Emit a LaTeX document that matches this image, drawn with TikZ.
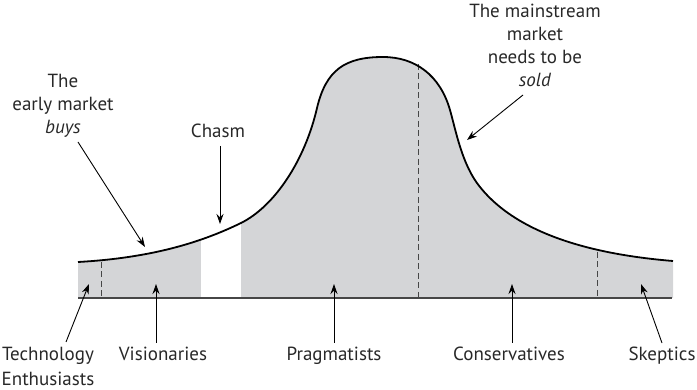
\documentclass[tikz,border=0pt]{standalone}
\usepackage{fontspec}
\setmainfont{PT Sans}
\usetikzlibrary{arrows.meta}
\definecolor{fillgray}{RGB}{212,213,215}
\definecolor{linegray}{RGB}{70,70,70}
\definecolor{textgray}{RGB}{40,40,40}
\begin{document}
\begin{tikzpicture}[x=1pt,y=-1pt,
  lbl/.style={font=\fontsize{19}{23}\selectfont, text=textgray, align=center, inner sep=0pt},
  arr/.style={-{Stealth[length=10pt,width=7pt]}, line width=0.9pt, black},
  divider/.style={linegray, line width=0.9pt, dash pattern=on 6pt off 3.5pt},
  curveline/.style={black, line width=1.8pt}
]
\useasboundingbox (0,0) rectangle (697,390);
\def\bell{(78,262) .. controls (150,258) and (200,243) .. (241,223)
  .. controls (275,206) and (305,160) .. (317,108)
  .. controls (326,70) and (345,57) .. (383,57)
  .. controls (415,57) and (440,75) .. (450,110)
  .. controls (456,131) and (462,165) .. (480,187)
  .. controls (520,237) and (600,255) .. (673,261)}
% gray area
\fill[fillgray] (78,298) -- \bell -- (673,298) -- cycle;
% chasm
\fill[white] (201,298) rectangle (241,200);
% dividers
\draw[divider] (101,262) -- (101,298);
\draw[divider] (418,64) -- (418,298);
\draw[divider] (597,252) -- (597,298);
% baseline
\draw[linegray, line width=1.1pt] (78,298) -- (672,298);
% curve
\draw[curveline] \bell;
% top labels
\node[lbl] (early) at (63,106) {The\\early market\\\textit{buys}};
\node[lbl, anchor=base] (chasm) at (218,138) {Chasm};
\node[lbl] (main) at (535,45) {The mainstream\\market\\needs to be\\\textit{sold}};
\coordinate (earlyT) at (78,142);
\coordinate (earlyH) at (145,247);
\coordinate (chasmT) at (220,146);
\coordinate (chasmH) at (220,224);
\coordinate (mainT) at (523,95);
\coordinate (mainH) at (467,140);
\draw[arr] (earlyT) -- (earlyH);
\draw[arr] (chasmT) -- (chasmH);
\draw[arr] (mainT) -- (mainH);
% bottom labels
\node[lbl, font=\fontsize{19}{25}\selectfont] (tech) at (48,366.5) {Technology\\Enthusiasts};
\node[lbl, anchor=base] (vis) at (163,361) {Visionaries};
\node[lbl, anchor=base] (prag) at (334,361) {Pragmatists};
\node[lbl, anchor=base] (cons) at (509,361) {Conservatives};
\node[lbl, anchor=base] (skep) at (662,361) {Skeptics};
\coordinate (techT) at (66,342);
\coordinate (techH) at (89,284);
\coordinate (visT) at (156,343);
\coordinate (visH) at (156,284);
\coordinate (pragT) at (334,343);
\coordinate (pragH) at (334,284);
\coordinate (consT) at (512,343);
\coordinate (consH) at (512,284);
\coordinate (skepT) at (662,343);
\coordinate (skepH) at (641,284);
\draw[arr] (techT) -- (techH);
\draw[arr] (visT) -- (visH);
\draw[arr] (pragT) -- (pragH);
\draw[arr] (consT) -- (consH);
\draw[arr] (skepT) -- (skepH);
\end{tikzpicture}
\end{document}
